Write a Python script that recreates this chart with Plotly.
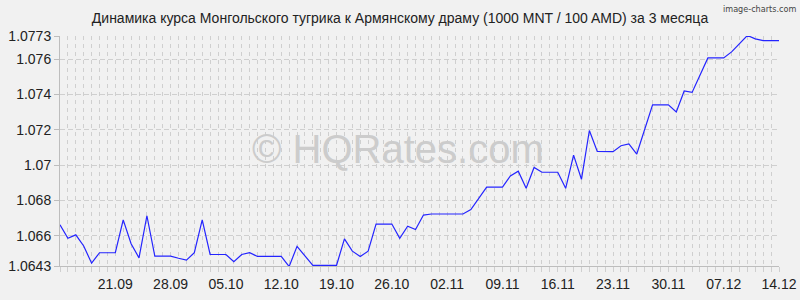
import plotly.graph_objects as go
import pandas as pd

title = "Динамика курса Монгольского тугрика к Армянскому драму (1000 MNT / 100 AMD) за 3 месяца"
start_date = "2023-09-14"
rates = [
    1.06663, 1.06587, 1.06606, 1.06543, 1.06446, 1.06505, 1.06505, 1.06505,
    1.06691, 1.06556, 1.06476, 1.06714, 1.06486, 1.06486, 1.06486, 1.06474,
    1.06463, 1.06505, 1.06691, 1.06495, 1.06495, 1.06495, 1.06455, 1.06495,
    1.06505, 1.06484, 1.06484, 1.06484, 1.06484, 1.06427, 1.06541, 1.06487,
    1.06434, 1.06434, 1.06434, 1.06434, 1.06583, 1.06514, 1.06484, 1.06514,
    1.06667, 1.06667, 1.06667, 1.06587, 1.06655, 1.06636, 1.06718, 1.06724,
    1.06724, 1.06724, 1.06724, 1.06724, 1.06749, 1.06813, 1.06876, 1.06876,
    1.06876, 1.06939, 1.06966, 1.06869, 1.06987, 1.06960, 1.06960, 1.06960,
    1.06869, 1.07057, 1.06920, 1.07196, 1.07078, 1.07078, 1.07076, 1.07110,
    1.07120, 1.07063, 1.07202, 1.07341, 1.07341, 1.07341, 1.07301, 1.07419,
    1.07411, 1.07509, 1.07606, 1.07606, 1.07606, 1.07640, 1.07686, 1.07733,
    1.07714, 1.07704, 1.07704, 1.07704,
]
y_ticks = [1.0643, 1.066, 1.068, 1.07, 1.072, 1.074, 1.076, 1.0773]
y_tick_text = ["1.0643", "1.066", "1.068", "1.07", "1.072", "1.074", "1.076", "1.0773"]
x_tick_text = ["21.09", "28.09", "05.10", "12.10", "19.10", "26.10", "02.11",
               "09.11", "16.11", "23.11", "30.11", "07.12", "14.12"]

dates = pd.date_range(start_date, periods=len(rates), freq="D")
x_tick_vals = list(dates[7::7])

fig = go.Figure()
fig.add_trace(go.Scatter(
    x=dates, y=rates, mode="lines",
    line=dict(color="#2424ff", width=1.2),
    hoverinfo="skip",
))

grid_col = "#cfcfcf"
fig.update_layout(
    width=800, height=300,
    margin=dict(l=60, r=21, t=36, b=34, autoexpand=False),
    paper_bgcolor="#f1f1f1", plot_bgcolor="#f1f1f1",
    showlegend=False,
    font=dict(family="Liberation Sans, Arial, sans-serif", size=14, color="#222222"),
    title=dict(text=title, x=0.5, xanchor="center", y=0.94, yanchor="middle",
               font=dict(size=14, color="#222222")),
    xaxis=dict(
        type="date",
        range=[dates[0], dates[-1]],
        tickvals=x_tick_vals, ticktext=x_tick_text,
        showgrid=True, gridcolor=grid_col, griddash="4px,4px", gridwidth=1,
        ticks="outside", ticklen=5, tickcolor=grid_col,
        showline=True, linecolor="#bdbdbd", linewidth=1,
        minor=dict(dtick=86400000, tick0=start_date, showgrid=True, gridcolor=grid_col,
                   griddash="4px,4px", ticks="outside", ticklen=5, tickcolor=grid_col),
        zeroline=False, fixedrange=True, automargin=False,
        tickfont=dict(size=14, color="#222222"),
    ),
    yaxis=dict(
        range=[1.0643, 1.0773],
        tickvals=y_ticks, ticktext=y_tick_text,
        showgrid=True, gridcolor=grid_col, griddash="5px,3px", gridwidth=1,
        ticks="outside", ticklen=5, tickcolor="#bdbdbd",
        showline=True, linecolor="#bdbdbd", linewidth=1,
        zeroline=False, fixedrange=True, automargin=False,
        tickfont=dict(size=14, color="#222222"),
    ),
)

fig.add_annotation(
    text="© HQRates.com", xref="paper", yref="paper", x=0.47, y=0.51,
    showarrow=False, font=dict(size=40, color="#cccccc", family="Liberation Sans, Arial, sans-serif"),
)
fig.add_annotation(
    text="image-charts.com", xref="paper", yref="paper", x=1.0, y=1.0,
    xanchor="right", yanchor="top", yshift=34, xshift=19, showarrow=False,
    font=dict(size=9, color="#444444", family="DejaVu Sans Condensed, Liberation Sans Narrow, sans-serif"),
)

fig.write_html("out.html", config={"displayModeBar": False})
